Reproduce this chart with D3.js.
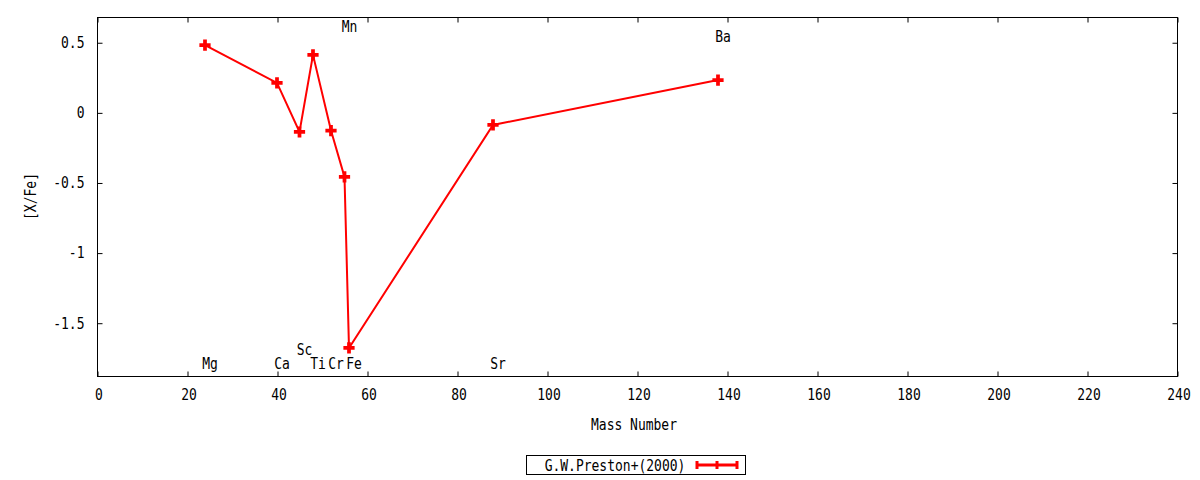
<!DOCTYPE html>
<html>
<head>
<meta charset="utf-8">
<script src="https://cdn.jsdelivr.net/npm/d3@7"></script>
<style>
  body { margin: 0; background: #fff; }
  svg { display: block; }
  text { font-family: "DejaVu Sans Mono", "Liberation Mono", monospace; font-size: 15px; fill: #000; }
</style>
</head>
<body>
<svg id="chart" width="1200" height="480"></svg>
<script>
// ---- data ----
const elements = ["Mg", "Ca", "Sc", "Ti", "Cr", "Mn", "Fe", "Sr", "Ba"];
const massNumbers = [24, 40, 45, 48, 52, 55, 56, 88, 138];
const abundances = [0.48, 0.21, -0.14, 0.41, -0.13, -0.46, -1.68, -0.09, 0.23];
// label anchor positions (mass, [X/Fe]) as placed in the original plot
const labelMass = [24, 40, 45, 48, 52, 55, 56, 88, 138];
const labelY = [-1.79, -1.79, -1.69, -1.79, -1.79, 0.61, -1.79, -1.79, 0.54];
const xTicks = [0, 20, 40, 60, 80, 100, 120, 140, 160, 180, 200, 220, 240];
const yTicks = [0.5, 0, -0.5, -1, -1.5];
const seriesName = "G.W.Preston+(2000)";

const SX = 0.867; // horizontal condensing of the text face
const svg = d3.select("#chart");
const pL = 97, pR = 1177, pT = 17, pB = 376;

const x = d3.scaleLinear().domain([0, 240]).range([pL, pR]);
const y = d3.scaleLinear().domain([-1.88, 0.68]).range([pB, pT]);

// convert a text's x/y into a translate + condensed scale
function condense(sel) {
  sel.each(function () {
    const t = d3.select(this);
    const tx = +t.attr("x") || 0, ty = +t.attr("y") || 0;
    t.attr("x", null).attr("y", null)
      .attr("transform", `translate(${tx},${ty}) scale(${SX},1)`);
  });
}

// frame
svg.append("rect").attr("x", pL + 0.5).attr("y", pT + 0.5).attr("width", pR - pL).attr("height", pB - pT)
  .attr("fill", "none").attr("stroke", "#000").attr("stroke-width", 1);

const fmtY = d => (d === 0 ? "0" : String(d));

const gxb = svg.append("g").attr("transform", `translate(0.5,${pB + 0.5})`)
  .call(d3.axisBottom(x).tickValues(xTicks).tickSize(-5).tickPadding(13).tickFormat(d3.format("d")));
const gxt = svg.append("g").attr("transform", `translate(0.5,${pT + 0.5})`)
  .call(d3.axisTop(x).tickValues(xTicks).tickSize(-5).tickFormat(""));
const gyl = svg.append("g").attr("transform", `translate(${pL + 0.5},0.5)`)
  .call(d3.axisLeft(y).tickValues(yTicks).tickSize(-5).tickPadding(13).tickFormat(fmtY));
const gyr = svg.append("g").attr("transform", `translate(${pR + 0.5},0.5)`)
  .call(d3.axisRight(y).tickValues(yTicks).tickSize(-5).tickFormat(""));

[gxb, gxt, gyl, gyr].forEach(g => {
  g.select(".domain").remove();
  g.selectAll(".tick line").attr("stroke", "#000");
  g.selectAll("text").style("font-family", "DejaVu Sans Mono, monospace").style("font-size", "15px").attr("fill", "#000");
});
gxb.selectAll(".tick text").attr("x", 1);
condense(gxb.selectAll(".tick text"));
condense(gyl.selectAll(".tick text"));

// axis titles
svg.append("text").attr("x", 634).attr("y", 430).attr("text-anchor", "middle").text("Mass Number").call(condense);
svg.append("text").attr("transform", `translate(36,${(pT + pB) / 2}) rotate(-90) scale(${SX},1)`)
  .attr("text-anchor", "middle").text("[X/Fe]");

// series
const pts = massNumbers.map((m, i) => ({ m, v: abundances[i] }));
svg.append("path").datum(pts)
  .attr("d", d3.line().x(d => x(d.m)).y(d => y(d.v)))
  .attr("fill", "none").attr("stroke", "#ff0000").attr("stroke-width", 2);

const plus = d3.symbol().type(d3.symbolCross).size(70);
svg.selectAll(".pt").data(pts).enter().append("path")
  .attr("transform", d => `translate(${x(d.m)},${y(d.v)})`)
  .attr("d", plus()).attr("fill", "#ff0000");

// element labels
svg.selectAll(".lbl").data(elements).enter().append("text")
  .attr("x", (d, i) => x(labelMass[i]) + 5)
  .attr("y", (d, i) => y(labelY[i]) + 5.5)
  .attr("text-anchor", "middle").text(d => d).call(condense);

// legend
svg.append("rect").attr("x", 526.5).attr("y", 455.5).attr("width", 219).attr("height", 19)
  .attr("fill", "none").attr("stroke", "#000").attr("stroke-width", 1);
svg.append("text").attr("x", 615).attr("y", 470.5).attr("text-anchor", "middle").text(seriesName).call(condense);
const lg = svg.append("g").attr("stroke", "#ff0000").attr("stroke-width", 3);
lg.append("line").attr("x1", 697).attr("x2", 737).attr("y1", 465).attr("y2", 465);
lg.append("line").attr("x1", 697).attr("x2", 697).attr("y1", 461).attr("y2", 469);
lg.append("line").attr("x1", 737).attr("x2", 737).attr("y1", 461).attr("y2", 469);
lg.append("line").attr("x1", 717).attr("x2", 717).attr("y1", 461).attr("y2", 469);
</script>
</body>
</html>
